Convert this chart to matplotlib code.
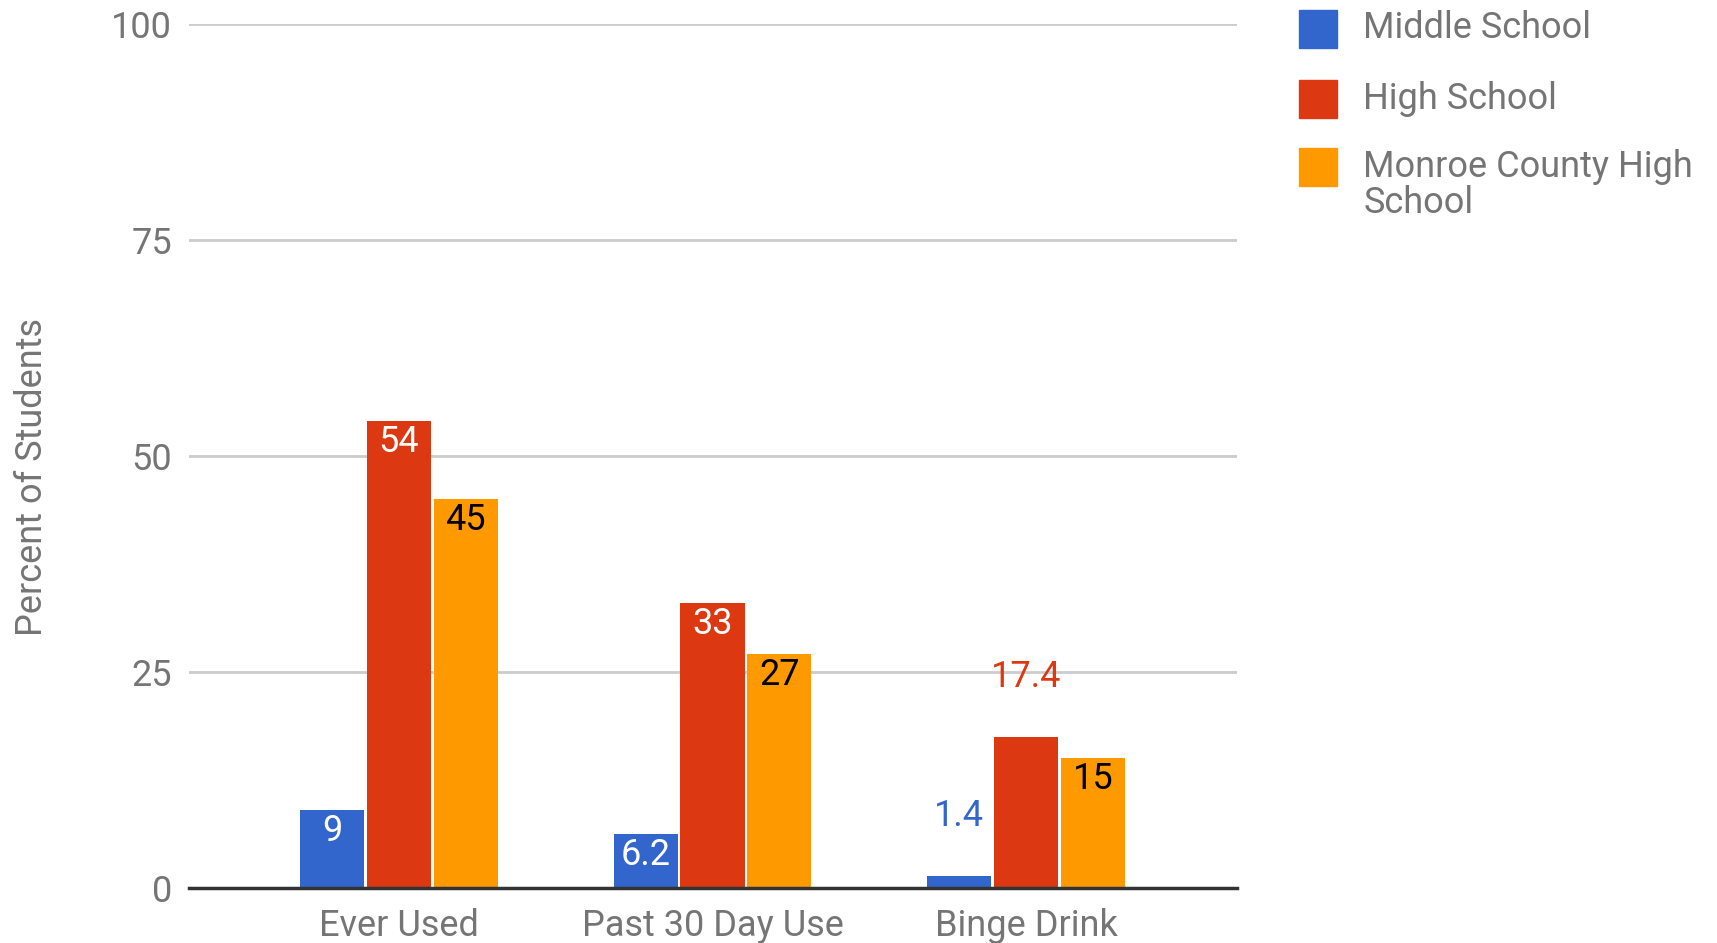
import numpy as np
import matplotlib
matplotlib.use('Agg')
import matplotlib.pyplot as plt
from matplotlib.patches import Rectangle

plt.rcParams['font.family'] = ['Roboto', 'DejaVu Sans']

categories = ['Ever Used', 'Past 30 Day Use', 'Binge Drink']
series = ['Middle School', 'High School', 'Monroe County High\nSchool']
middle = [9, 6.2, 1.4]
high = [54, 33, 17.4]
monroe = [45, 27, 15]
colors = ['#3366cc', '#dc3912', '#ff9900']
inside_col = ['white', 'white', 'black']
yticks = [0, 25, 50, 75, 100]

gray = '#757575'
fig = plt.figure(figsize=(17.17, 9.43), dpi=100)
ax = fig.add_axes([0.110, 0.0587, 0.6107, 0.9158])

x = np.arange(len(categories))
w = 0.205
off = 0.213
data = [middle, high, monroe]
for k, vals in enumerate(data):
    xs = x + (k - 1) * off
    ax.bar(xs, vals, width=w, color=colors[k], zorder=3)
    for j, (xi, v) in enumerate(zip(xs, vals)):
        lab = '%g' % v
        # in the last group the blue and red labels sit above the bars
        if j == 2 and k < 2:
            ax.annotate(lab, (xi, v), xytext=(0, 60), textcoords='offset pixels',
                        ha='center', va='center', fontsize=26, color=colors[k], zorder=4)
        else:
            ax.annotate(lab, (xi, v), xytext=(0, -21), textcoords='offset pixels',
                        ha='center', va='center', fontsize=26, color=inside_col[k], zorder=4)

ax.set_xlim(-0.670, 2.674)
ax.set_ylim(0, 100)
ax.set_yticks(yticks)
ax.set_xticks(x)
ax.set_xticklabels(categories)
ax.tick_params(length=0, labelsize=26, labelcolor=gray)
ax.tick_params(axis='y', pad=12)
ax.tick_params(axis='x', pad=15)
ax.grid(axis='y', color='#cccccc', lw=2, zorder=0)
for s in ['top', 'right', 'left']:
    ax.spines[s].set_visible(False)
ax.spines['bottom'].set_color('#333333')
ax.spines['bottom'].set_linewidth(2.5)
ax.spines['bottom'].set_zorder(5)
ax.set_ylabel('Percent of Students', fontsize=26, color=gray, labelpad=44)
ax.yaxis.label.set_y(0.476)

# legend
ys = [0.969, 0.8945, 0.8225]
for k, name in enumerate(series):
    fig.patches.append(Rectangle((0.7567, ys[k] - 0.0201), 0.0221, 0.0403,
                                 transform=fig.transFigure, color=colors[k]))
    fig.text(0.794, ys[k] + 0.02, name, fontsize=26, color=gray, va='top',
             ha='left', linespacing=1.0)

fig.savefig('out.png', dpi=100)
